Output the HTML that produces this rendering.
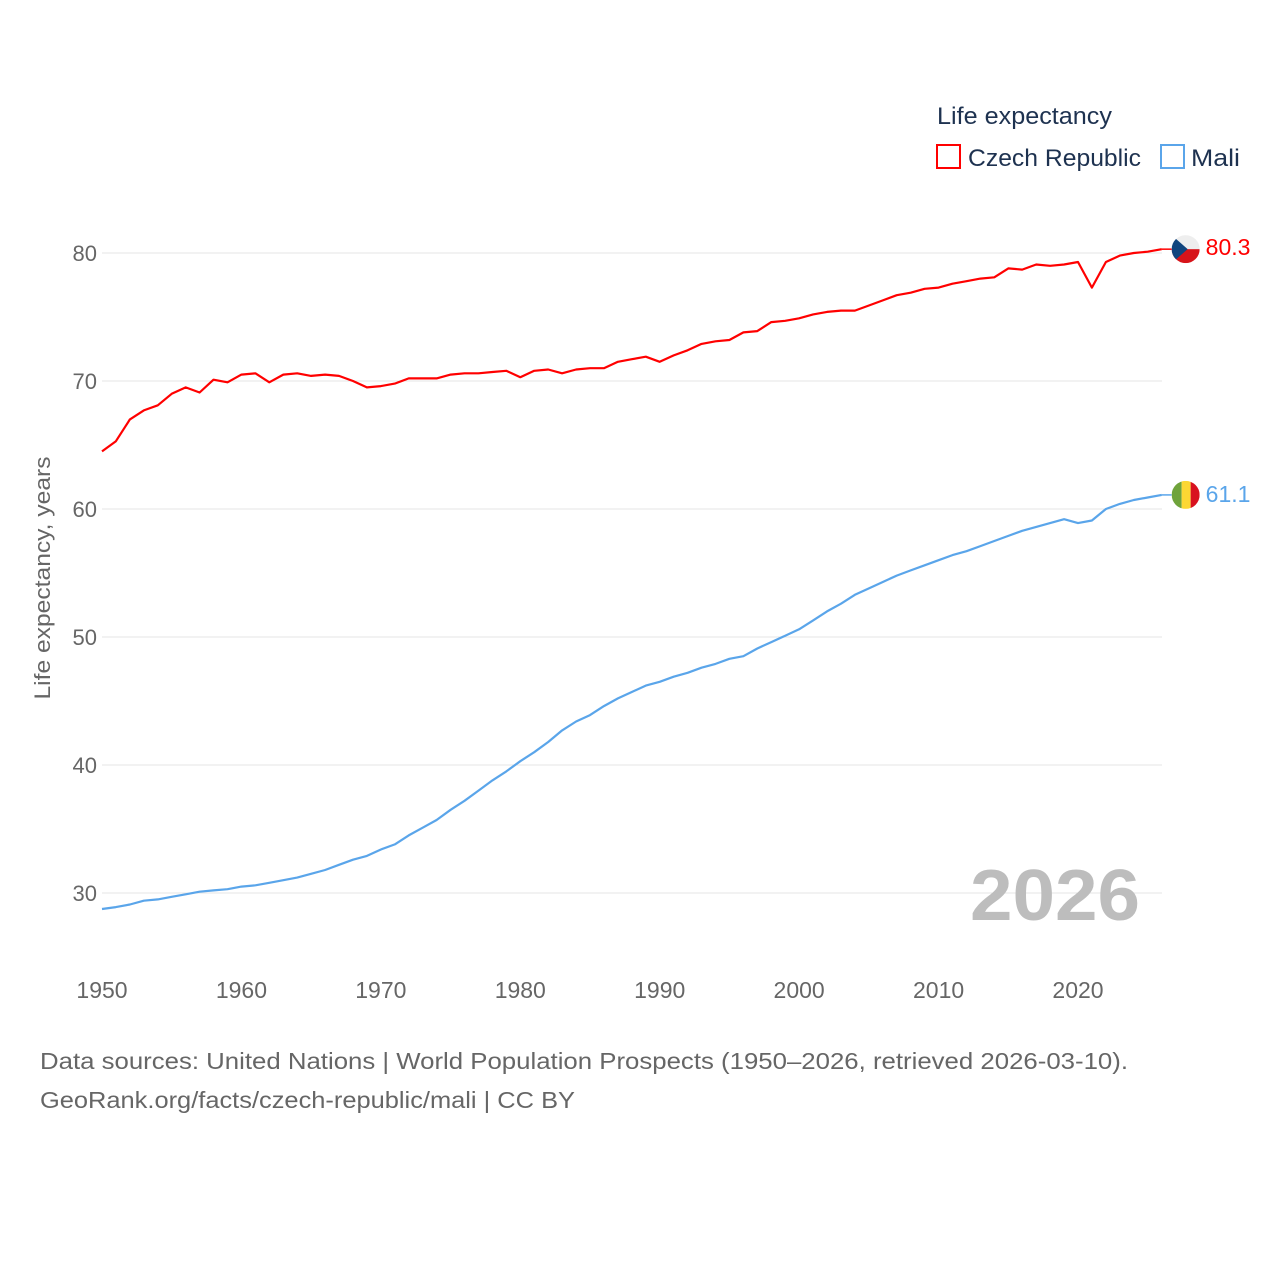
<!DOCTYPE html>
<html><head><meta charset="utf-8"><style>
html,body{margin:0;padding:0;background:#fff;}
body{width:1280px;height:1280px;overflow:hidden;font-family:"Liberation Sans",sans-serif;}
svg text{font-family:"Liberation Sans",sans-serif;}
</style></head><body>
<svg id="chart" width="1280" height="1280" viewBox="0 0 1280 1280" xmlns="http://www.w3.org/2000/svg">
  <g id="grid"></g>
  <g id="yticks"></g>
  <g id="xticks"></g>
  <text transform="translate(50,578) rotate(-90)" text-anchor="middle" font-size="22" fill="#666" textLength="243" lengthAdjust="spacingAndGlyphs">Life expectancy, years</text>
  <text x="970" y="920" font-size="72" font-weight="bold" fill="#bdbdbd" textLength="170" lengthAdjust="spacingAndGlyphs">2026</text>
  <g id="series"></g>
  <g>
    <text x="937" y="124" font-size="24" fill="#1e3250" textLength="175" lengthAdjust="spacingAndGlyphs">Life expectancy</text>
    <rect x="937" y="145" width="23" height="23" fill="none" stroke="#ff0000" stroke-width="2"/>
    <text x="968" y="166" font-size="24" fill="#1e3250" textLength="173" lengthAdjust="spacingAndGlyphs">Czech Republic</text>
    <rect x="1161" y="145" width="23" height="23" fill="none" stroke="#5aa5ea" stroke-width="2"/>
    <text x="1191" y="166" font-size="24" fill="#1e3250" textLength="49" lengthAdjust="spacingAndGlyphs">Mali</text>
  </g>
  <text x="40" y="1069" font-size="23" fill="#666" textLength="1088" lengthAdjust="spacingAndGlyphs">Data sources: United Nations | World Population Prospects (1950–2026, retrieved 2026-03-10).</text>
  <text x="40" y="1108" font-size="23" fill="#666" textLength="535" lengthAdjust="spacingAndGlyphs">GeoRank.org/facts/czech-republic/mali | CC BY</text>
</svg>
<script>
const years = [];
for (let y = 1950; y <= 2026; y++) years.push(y);
const czechValues = [64.5,65.3,67.0,67.7,68.1,69.0,69.5,69.1,70.1,69.9,70.5,70.6,69.9,70.5,70.6,70.4,70.5,70.4,70.0,69.5,69.6,69.8,70.2,70.2,70.2,70.5,70.6,70.6,70.7,70.8,70.3,70.8,70.9,70.6,70.9,71.0,71.0,71.5,71.7,71.9,71.5,72.0,72.4,72.9,73.1,73.2,73.8,73.9,74.6,74.7,74.9,75.2,75.4,75.5,75.5,75.9,76.3,76.7,76.9,77.2,77.3,77.6,77.8,78.0,78.1,78.8,78.7,79.1,79.0,79.1,79.3,77.3,79.3,79.8,80.0,80.1,80.3];
const maliValues = [28.75,28.9,29.1,29.4,29.5,29.7,29.9,30.1,30.2,30.3,30.5,30.6,30.8,31.0,31.2,31.5,31.8,32.2,32.6,32.9,33.4,33.8,34.5,35.1,35.7,36.5,37.2,38.0,38.8,39.5,40.3,41.0,41.8,42.7,43.4,43.9,44.6,45.2,45.7,46.2,46.5,46.9,47.2,47.6,47.9,48.3,48.5,49.1,49.6,50.1,50.6,51.3,52.0,52.6,53.3,53.8,54.3,54.8,55.2,55.6,56.0,56.4,56.7,57.1,57.5,57.9,58.3,58.6,58.9,59.2,58.9,59.1,60.0,60.4,60.7,60.9,61.1];
const yTicks = [30,40,50,60,70,80];
const xTicks = [1950,1960,1970,1980,1990,2000,2010,2020];
const NS = "http://www.w3.org/2000/svg";
const xs = y => 102 + (y - 1950) * (976 / 70);
const ys = v => 253 + (80 - v) * 12.8;
function mk(tag, attrs, parent) {
  const e = document.createElementNS(NS, tag);
  for (const k in attrs) e.setAttribute(k, attrs[k]);
  parent.appendChild(e);
  return e;
}
const grid = document.getElementById('grid');
const yt = document.getElementById('yticks');
yTicks.forEach(v => {
  const l = mk('line', {x1: 102, x2: 1162, y1: ys(v), y2: ys(v), stroke: '#e6e6e6', 'stroke-width': 1}, grid);
  
  
  const t = mk('text', {x: 97, y: ys(v) + 8, 'text-anchor': 'end', 'font-size': 22, fill: '#666'}, yt);
  t.textContent = v;
  
  
});
const xt = document.getElementById('xticks');
xTicks.forEach(v => {
  const t = mk('text', {x: xs(v), y: 998, 'text-anchor': 'middle', 'font-size': 23, fill: '#666'}, xt);
  t.textContent = v;
  
  
});
const sg = document.getElementById('series');
function line(vals, color, name) {
  const d = vals.map((v, i) => (i ? 'L' : 'M') + xs(years[i]).toFixed(1) + ',' + ys(v).toFixed(1)).join('');
  const p = mk('path', {d: d, fill: 'none', stroke: color, 'stroke-width': 2.2, 'stroke-linejoin': 'round'}, sg);
  
  
}
line(czechValues, '#ff0000', 'czech-republic-line');
line(maliValues, '#5aa5ea', 'mali-line');
const lastX = xs(years[years.length - 1]);
const cx = lastX + 24;
const cz = czechValues[czechValues.length - 1], ml = maliValues[maliValues.length - 1];
mk('line', {x1: lastX, x2: cx - 14, y1: ys(cz), y2: ys(cz), stroke: '#ff0000', 'stroke-width': 1.5}, sg);
mk('line', {x1: lastX, x2: cx - 14, y1: ys(ml), y2: ys(ml), stroke: '#5aa5ea', 'stroke-width': 1.5}, sg);
const defs = mk('defs', {}, sg);
const c1 = mk('clipPath', {id: 'cz'}, defs); mk('circle', {cx: cx, cy: ys(cz), r: 14}, c1);
const c2 = mk('clipPath', {id: 'ml'}, defs); mk('circle', {cx: cx, cy: ys(ml), r: 14}, c2);
const fc = mk('g', {'clip-path': 'url(#cz)'}, sg);


const cyc = ys(cz);
mk('rect', {x: cx - 14, y: cyc - 14, width: 28, height: 14, fill: '#eeeeee'}, fc);
mk('rect', {x: cx - 14, y: cyc, width: 28, height: 14, fill: '#d7141a'}, fc);
mk('polygon', {points: (cx - 14) + ',' + (cyc - 14) + ' ' + (cx + 2) + ',' + cyc + ' ' + (cx - 14) + ',' + (cyc + 14), fill: '#11457e'}, fc);
const fm = mk('g', {'clip-path': 'url(#ml)'}, sg);


const cym = ys(ml);
mk('rect', {x: cx - 14, y: cym - 14, width: 10, height: 28, fill: '#6fa33b'}, fm);
mk('rect', {x: cx - 4, y: cym - 14, width: 9, height: 28, fill: '#fcd733'}, fm);
mk('rect', {x: cx + 5, y: cym - 14, width: 9, height: 28, fill: '#d8121f'}, fm);
const l1 = mk('text', {x: cx + 20, y: cyc + 6, 'font-size': 23, fill: '#ff0000'}, sg);
l1.textContent = cz.toFixed(1);


const l2 = mk('text', {x: cx + 20, y: cym + 7, 'font-size': 23, fill: '#5aa5ea'}, sg);
l2.textContent = ml.toFixed(1);


</script>
</body></html>
